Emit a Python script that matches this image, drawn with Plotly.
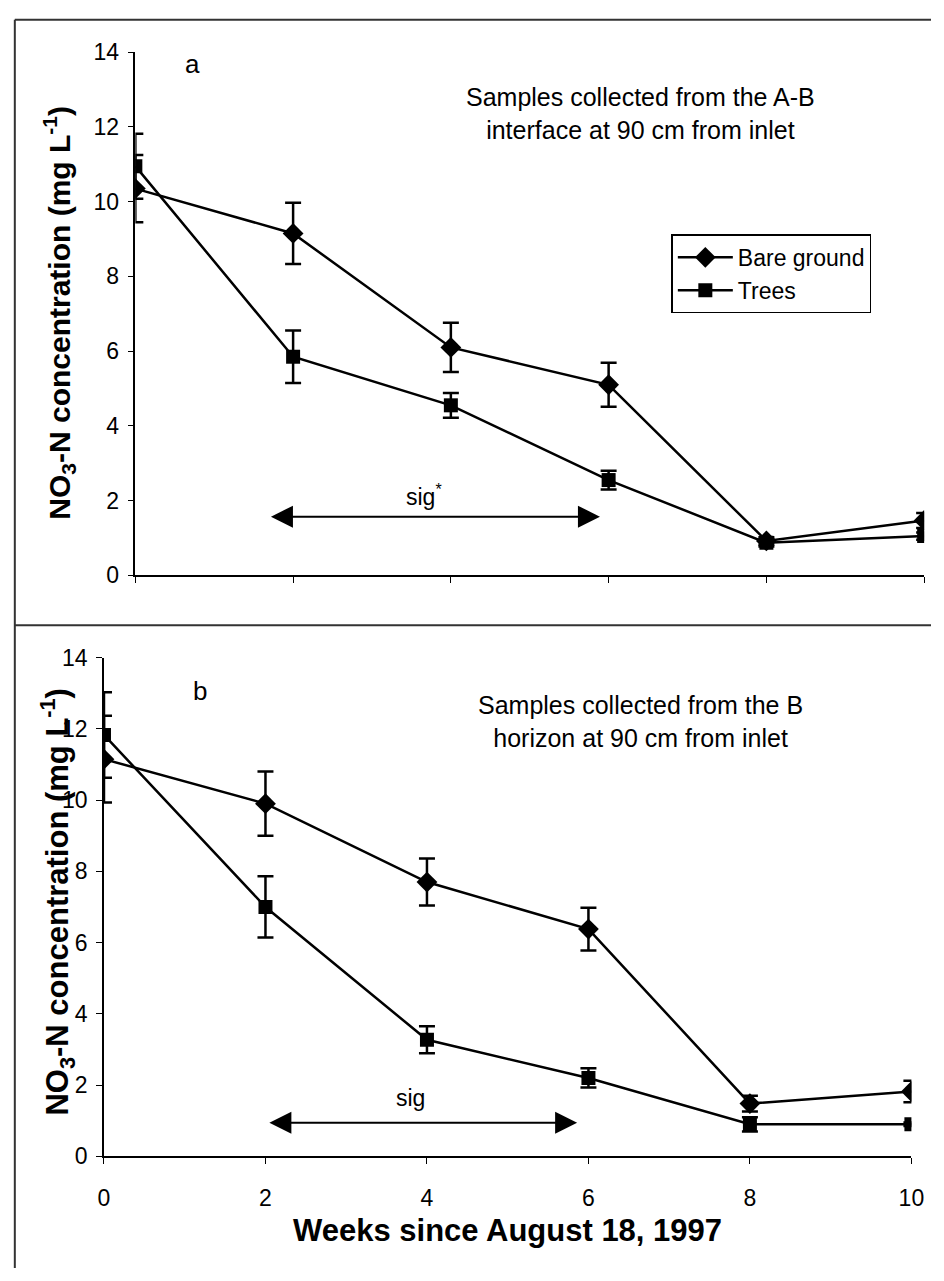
import plotly.graph_objects as go

# ---------------- data ----------------
weeks = [0, 2, 4, 6, 8, 10]

# panel a: A-B interface
bare_a = [10.35, 9.15, 6.10, 5.10, 0.92, 1.47]
bare_a_err = [0.90, 0.82, 0.66, 0.59, 0.10, 0.20]
trees_a = [10.95, 5.85, 4.55, 2.55, 0.87, 1.05]
trees_a_err = [0.87, 0.70, 0.33, 0.25, 0.10, 0.10]

# panel b: B horizon
bare_b = [11.15, 9.90, 7.70, 6.38, 1.48, 1.82]
bare_b_err = [1.22, 0.90, 0.66, 0.60, 0.22, 0.30]
trees_b = [11.83, 7.00, 3.27, 2.20, 0.90, 0.90]
trees_b_err = [1.20, 0.86, 0.38, 0.27, 0.20, 0.05]

series_names = ["Bare ground", "Trees"]
y_ticks = [0, 2, 4, 6, 8, 10, 12, 14]
x_ticks = [0, 2, 4, 6, 8, 10]

# significance arrows (start week, end week, level)
sig_a = (1.70, 5.89, 1.57)
sig_b = (2.03, 5.86, 0.94)

W, H = 944, 1281
FONT = "Liberation Sans, Arial, sans-serif"


def px(x):
    return x / W


def py(y):
    return 1 - y / H


fig = go.Figure()


def add_series(x, y, err, name, symbol, size, xa, ya, legend):
    fig.add_trace(go.Scatter(
        x=x, y=y, name=name, mode="lines+markers",
        line=dict(color="black", width=2.5),
        marker=dict(symbol=symbol, size=size, color="black"),
        error_y=dict(type="data", array=err, visible=True, color="black",
                     thickness=2.5, width=8),
        xaxis=xa, yaxis=ya, showlegend=legend,
    ))


add_series(weeks, bare_a, bare_a_err, series_names[0], "diamond", 16, "x", "y", True)
add_series(weeks, trees_a, trees_a_err, series_names[1], "square", 14, "x", "y", True)
add_series(weeks, bare_b, bare_b_err, series_names[0], "diamond", 16, "x2", "y2", False)
add_series(weeks, trees_b, trees_b_err, series_names[1], "square", 14, "x2", "y2", False)

axis_common = dict(
    showgrid=False, zeroline=False, showline=True, linecolor="black", linewidth=1.5,
    ticks="outside", ticklen=6, tickcolor="black", tickwidth=1.2,
    tickfont=dict(family=FONT, size=23, color="black"),
)

fig.update_layout(
    width=W, height=H,
    margin=dict(l=0, r=0, t=0, b=0),
    paper_bgcolor="white", plot_bgcolor="white",
    font=dict(family=FONT, color="black"),
    xaxis=dict(domain=[px(132), px(937)], range=[0, 10], tickvals=x_ticks,
               showticklabels=False, anchor="y", **axis_common),
    yaxis=dict(domain=[py(574), py(40)], range=[0, 14], tickvals=y_ticks,
               anchor="x", ticklabelstandoff=4, **axis_common),
    xaxis2=dict(domain=[px(100), px(924)], range=[0, 10], tickvals=x_ticks,
                anchor="y2", ticklabelstandoff=14, **axis_common),
    yaxis2=dict(domain=[py(1167), py(658)], range=[0, 14], tickvals=y_ticks,
                anchor="x2", ticklabelstandoff=4, **axis_common),
    legend=dict(x=px(679), y=py(226), xanchor="left", yanchor="top",
                bordercolor="black", borderwidth=1.5, bgcolor="white",
                font=dict(family=FONT, size=23, color="black"),
                itemwidth=55, tracegroupgap=0),
)

# panel frames
frame = dict(color="#333333", width=2)
fig.add_shape(type="line", xref="paper", yref="paper", x0=px(9), x1=px(9), y0=py(7), y1=py(1281), line=frame)
fig.add_shape(type="line", xref="paper", yref="paper", x0=px(9), x1=px(944), y0=py(7), y1=py(7), line=frame)
fig.add_shape(type="line", xref="paper", yref="paper", x0=px(9), x1=px(944), y0=py(625), y1=py(625), line=frame)

# significance arrows
for (x0, x1, yv), xr, yr in [(sig_a, "x", "y"), (sig_b, "x2", "y2")]:
    fig.add_annotation(x=x1, y=yv, ax=x0, ay=yv, xref=xr, yref=yr, axref=xr, ayref=yr,
                       text="", showarrow=True, arrowside="end+start",
                       arrowhead=2, startarrowhead=2, arrowsize=2.2, startarrowsize=2.2,
                       arrowwidth=2, arrowcolor="black", standoff=0, startstandoff=0)

annots = [
    dict(x=px(427), y=py(492), text="sig<sup>*</sup>", size=23),
    dict(x=px(413), y=py(1107), text="sig", size=23),
    dict(x=px(190), y=py(52), text="a", size=26),
    dict(x=px(198), y=py(692), text="b", size=26),
    dict(x=px(648), y=py(103), text="Samples collected from the A-B<br>interface at 90 cm from inlet", size=25),
    dict(x=px(648), y=py(723), text="Samples collected from the B<br>horizon at 90 cm from inlet", size=25),
]
for a in annots:
    fig.add_annotation(x=a["x"], y=a["y"], xref="paper", yref="paper", text=a["text"],
                       showarrow=False, xanchor="center", yanchor="middle",
                       font=dict(family=FONT, size=a["size"], color="black"))

ytitle = "<b>NO<sub>3</sub>-N concentration (mg L<sup>-1</sup>)</b>"
fig.add_annotation(x=px(54), y=py(306), xref="paper", yref="paper", text=ytitle,
                   textangle=-90, showarrow=False, xanchor="center", yanchor="middle",
                   font=dict(family=FONT, size=30, color="black"))
fig.add_annotation(x=px(53), y=py(907), xref="paper", yref="paper", text=ytitle,
                   textangle=-90, showarrow=False, xanchor="center", yanchor="middle",
                   font=dict(family=FONT, size=31, color="black"))
fig.add_annotation(x=px(512), y=py(1243), xref="paper", yref="paper",
                   text="<b>Weeks since August 18, 1997</b>",
                   showarrow=False, xanchor="center", yanchor="middle",
                   font=dict(family=FONT, size=31, color="black"))

fig.write_html("out.html")
